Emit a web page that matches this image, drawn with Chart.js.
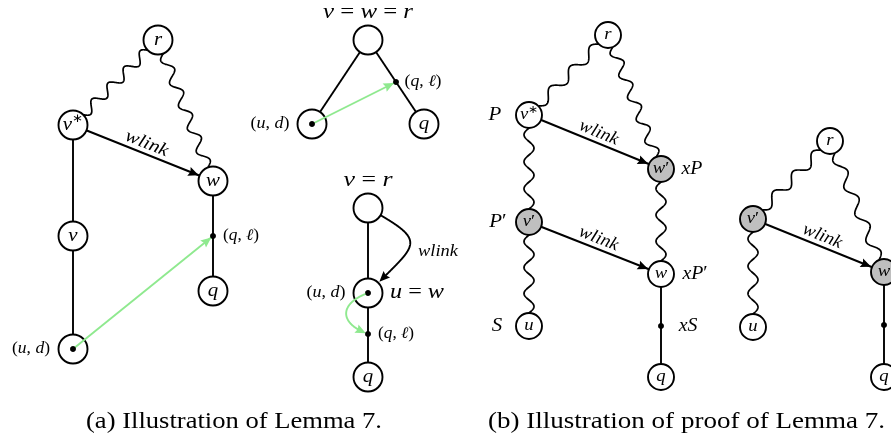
<!DOCTYPE html>
<html><head><meta charset="utf-8">
<script src="https://cdn.jsdelivr.net/npm/chart.js@4.4.0/dist/chart.umd.min.js"></script>
<style>html,body{margin:0;padding:0;background:#fff;}#wrap{width:891px;height:441px;}</style>
</head><body><div id="wrap"><canvas id="c" width="891" height="441"></canvas></div>
<script>
// ---------- data (diagram coordinates on invisible x:0..891, y:0..441 axes) ----------
const nodeId   = ['a_r','a_vs','a_w','a_v','a_ud','a_q','m1_top','m1_ud','m1_q','m2_top','m2_ud','m2_q','b_r','b_vs','b_wp','b_vp','b_w','b_u','b_q','c_r','c_vp','c_w','c_u','c_q'];
const nodeX    = [158, 73, 213, 73, 73, 213, 368, 312, 424, 368, 368, 368, 608, 529, 661, 529, 661, 529, 661, 830, 753, 884, 753, 884];
const nodeY    = [40, 125, 181, 236, 349, 291, 40, 124, 124, 208, 293, 377, 35, 115, 169, 222, 274, 326, 377, 141, 219, 272, 327, 377];
const nodeText = ['r','v*','w','v','','q','','','q','','','q','r','v*',"w'","v'",'w','u','q','r',"v'",'w','u','q'];
const shadedNodes = ['b_wp','b_vp','c_vp','c_w'];

const dotX = [213, 73, 396, 312, 368, 368, 661, 884];
const dotY = [236, 349, 82, 124, 293, 334, 326, 325];

const plainEdges = [['a_vs','a_v'],['a_v','a_ud'],['a_w','a_q'],['m1_top','m1_ud'],['m1_top','m1_q'],['m2_top','m2_ud'],['m2_ud','m2_q'],['b_w','b_q'],['c_w','c_q']];
const wavyEdges  = [['a_r','a_vs'],['a_r','a_w'],['b_r','b_vs'],['b_r','b_wp'],['b_vs','b_vp'],['b_wp','b_w'],['b_vp','b_u'],['c_r','c_vp'],['c_r','c_w'],['c_vp','c_u']];
const wlinkEdges = [['a_vs','a_w'],['b_vs','b_wp'],['b_vp','b_w'],['c_vp','c_w']];
const greenArrows = [[1,0],[3,2]];          // dot index -> dot index
const bentWlink = ['m2_top','m2_ud'];       // curved wlink
const bentGreen = [4,5];                    // curved green arrow, dot -> dot

const labelText = ['v = w = r','v = r','(u, d)','(q, ℓ)','(u, d)','(q, ℓ)','(u, d)','(q, ℓ)','u = w','wlink','P',"P'",'S','xP',"xP'",'xS'];
const labelX    = [368, 368, 31, 241, 270, 423, 326, 396, 417, 438, 495, 498, 497, 692, 695, 688];
const labelY    = [12, 180, 349, 236, 124, 82, 293, 334, 293, 252, 115, 222, 326, 169, 274, 326];

const captionText = ['(a) Illustration of Lemma 7.', '(b) Illustration of proof of Lemma 7.'];
const captionX = [234, 686.5];
const captionY = [422, 422];

// ---------- styles ----------
const FONT = "'Liberation Serif','Times New Roman',serif";
const LW = 1.9;
const GREEN = '#8fe98f';
const GREY = '#bfbfbf';
const WAVE_PERIOD = 26, WAVE_AMP = 5, WAVE_LW = 1.7;
const HSCALE = 1.1;
const labelSize  = [21,21,16,16,16,16,16,16,20,17,19,19,19,18,18,18];
const labelWidth = [90,49,38,36,39,37,39,36,54,40,0,0,0,0,0,0];
const captionWidth = [296, 397];

const idx = id => nodeId.indexOf(id);
const rad = id => (id.startsWith('b_') || id.startsWith('c_')) ? 13 : 14.5;
const nodeSize = id => (id.startsWith('b_') || id.startsWith('c_')) ? 17 : 19;

// ---------- datasets ----------
const datasets = [];
plainEdges.forEach(([a,b]) => datasets.push({
  data:[{x:nodeX[idx(a)],y:nodeY[idx(a)]},{x:nodeX[idx(b)],y:nodeY[idx(b)]}],
  showLine:true, borderColor:'#000', borderWidth:LW, pointRadius:0, order:5}));
wlinkEdges.forEach(([a,b]) => datasets.push({
  data:[{x:nodeX[idx(a)],y:nodeY[idx(a)]},{x:nodeX[idx(b)],y:nodeY[idx(b)]}],
  showLine:true, borderColor:'#000', borderWidth:LW, pointRadius:0, order:5}));
datasets.push({
  data: nodeId.map((id,i)=>({x:nodeX[i],y:nodeY[i]})),
  pointRadius: nodeId.map(rad),
  pointBackgroundColor: nodeId.map(id => shadedNodes.includes(id) ? GREY : '#fff'),
  pointBorderColor:'#000', pointBorderWidth:LW, pointStyle:'circle', order:3});
greenArrows.forEach(([a,b]) => datasets.push({
  data:[{x:dotX[a],y:dotY[a]},{x:dotX[b],y:dotY[b]}],
  showLine:true, borderColor:GREEN, borderWidth:LW, pointRadius:0, order:1}));
datasets.push({
  data: dotX.map((x,i)=>({x, y:dotY[i]})),
  pointRadius:2.7, pointBackgroundColor:'#000', pointBorderWidth:0, order:0});

// ---------- drawing helpers ----------
function wavy(c,x0,y0,x1,y1,r0,r1){
  const dx=x1-x0, dy=y1-y0, L=Math.hypot(dx,dy), ux=dx/L, uy=dy/L;
  const sx=x0+ux*r0, sy=y0+uy*r0, len=L-r0-r1;
  const n=Math.max(1,Math.round(len/WAVE_PERIOD)), per=len/n, nx=-uy, ny=ux;
  c.beginPath();
  for(let s=0;s<=len+0.01;s+=0.5){
    const o=WAVE_AMP*Math.sin(2*Math.PI*s/per);
    c.lineTo(sx+ux*s+nx*o, sy+uy*s+ny*o);
  }
  c.stroke();
}
function head(c,tx,ty,ux,uy,color){
  const L=10.5, W=4.6, bx=tx-ux*L, by=ty-uy*L;
  c.fillStyle=color; c.beginPath();
  c.moveTo(tx,ty); c.lineTo(bx-uy*W,by+ux*W);
  c.lineTo(tx-ux*L*0.85,ty-uy*L*0.85);
  c.lineTo(bx+uy*W,by-ux*W); c.closePath(); c.fill();
}
function curve(c,p0,r0,outDeg,p3,r3,inDeg,d,trim,color){
  const o=outDeg*Math.PI/180, i=inDeg*Math.PI/180;
  const a0={x:p0.x+r0*Math.cos(o), y:p0.y-r0*Math.sin(o)};
  const a3={x:p3.x+r3*Math.cos(i), y:p3.y-r3*Math.sin(i)};
  const c1={x:a0.x+d*Math.cos(o), y:a0.y-d*Math.sin(o)};
  const c2={x:a3.x+d*Math.cos(i), y:a3.y-d*Math.sin(i)};
  const pts=[];
  for(let k=0;k<=200;k++){const t=k/200,m=1-t;
    pts.push({x:m*m*m*a0.x+3*m*m*t*c1.x+3*m*t*t*c2.x+t*t*t*a3.x, y:m*m*m*a0.y+3*m*m*t*c1.y+3*m*t*t*c2.y+t*t*t*a3.y});}
  let e=pts.length-1;
  while(e>0 && Math.hypot(pts[e].x-a3.x,pts[e].y-a3.y)<trim) e--;
  const tip=pts[e];
  let b=e; while(b>0 && Math.hypot(pts[b].x-tip.x,pts[b].y-tip.y)<6) b--;
  let h=e; while(h>0 && Math.hypot(pts[h].x-tip.x,pts[h].y-tip.y)<9) h--;
  c.strokeStyle=color; c.lineWidth=LW; c.beginPath();
  for(let k=0;k<=b;k++) c.lineTo(pts[k].x,pts[k].y);
  c.stroke();
  const dx=tip.x-pts[h].x, dy=tip.y-pts[h].y, L=Math.hypot(dx,dy);
  head(c,tip.x,tip.y,dx/L,dy/L,color);
}
function runs(str, math){
  const out=[];
  for(const ch of str){
    if(ch==='*') out.push({t:'∗',it:false,sup:true});
    else if(ch==="'") out.push({t:'′',it:false,sup:false});
    else if(/[A-Za-zℓ]/.test(ch) && math) out.push({t:ch,it:true,sup:false});
    else out.push({t:ch,it:false,sup:false});
  }
  return out;
}
function drawText(c,str,x,y,size,opt){
  opt=opt||{};
  const rs=runs(str, opt.math!==false);
  c.save();
  c.textBaseline='middle'; c.textAlign='left'; c.fillStyle='#000';
  let total=0;
  rs.forEach(r=>{ r.sz = r.sup? size*0.62 : size; c.font=(r.it?'italic ':'')+r.sz+'px '+FONT; r.w=c.measureText(r.t).width; total+=r.w; });
  let sx = opt.width ? opt.width/total : HSCALE;
  c.translate(x,y); if(opt.angle) c.rotate(opt.angle); c.scale(sx,1);
  let cx=-total/2;
  rs.forEach(r=>{ c.font=(r.it?'italic ':'')+r.sz+'px '+FONT; c.fillText(r.t,cx, r.sup? -size*0.3 : 0); cx+=r.w; });
  c.restore();
}

const diagram = {
  id:'diagram',
  beforeDatasetsDraw(chart){
    const c=chart.ctx, X=v=>chart.scales.x.getPixelForValue(v), Y=v=>chart.scales.y.getPixelForValue(v);
    c.save(); c.strokeStyle='#000'; c.lineWidth=WAVE_LW; c.lineJoin='round';
    wavyEdges.forEach(([a,b])=>{ const i=idx(a), j=idx(b);
      wavy(c,X(nodeX[i]),Y(nodeY[i]),X(nodeX[j]),Y(nodeY[j]),rad(a),rad(b)); });
    c.restore();
  },
  afterDatasetsDraw(chart){
    const c=chart.ctx, X=v=>chart.scales.x.getPixelForValue(v), Y=v=>chart.scales.y.getPixelForValue(v);
    c.save();
    wlinkEdges.forEach(([a,b])=>{
      const i=idx(a), j=idx(b), x0=X(nodeX[i]), y0=Y(nodeY[i]), x1=X(nodeX[j]), y1=Y(nodeY[j]);
      const L=Math.hypot(x1-x0,y1-y0), ux=(x1-x0)/L, uy=(y1-y0)/L;
      head(c, x1-ux*(rad(b)+0.9), y1-uy*(rad(b)+0.9), ux, uy, '#000');
      const mx=(x0+x1)/2+uy*10, my=(y0+y1)/2-ux*10;
      drawText(c,'wlink',mx,my, 18, {angle:Math.atan2(uy,ux), width: a.startsWith('a_')?45:41});
    });
    greenArrows.forEach(([a,b])=>{
      const x0=X(dotX[a]), y0=Y(dotY[a]), x1=X(dotX[b]), y1=Y(dotY[b]);
      const L=Math.hypot(x1-x0,y1-y0), ux=(x1-x0)/L, uy=(y1-y0)/L;
      head(c, x1-ux*2.2, y1-uy*2.2, ux, uy, GREEN);
    });
    { const i=idx(bentWlink[0]), j=idx(bentWlink[1]);
      curve(c,{x:X(nodeX[i]),y:Y(nodeY[i])},rad(bentWlink[0]),-30,{x:X(nodeX[j]),y:Y(nodeY[j])},rad(bentWlink[1]),45,52,0.9,'#000'); }
    { const a=bentGreen[0], b=bentGreen[1];
      curve(c,{x:X(dotX[a]),y:Y(dotY[a])},0,200,{x:X(dotX[b]),y:Y(dotY[b])},0,160,31,2.2,GREEN); }
    c.fillStyle='#000';
    dotX.forEach((x,k)=>{ c.beginPath(); c.arc(X(x),Y(dotY[k]),2.7,0,Math.PI*2); c.fill(); });
    nodeId.forEach((id,k)=>{ if(nodeText[k]) drawText(c,nodeText[k],X(nodeX[k]),Y(nodeY[k]),nodeSize(id)); });
    labelText.forEach((t,k)=> drawText(c,t,X(labelX[k]),Y(labelY[k]),labelSize[k],{width:labelWidth[k]||0}));
    captionText.forEach((t,k)=> drawText(c,t,X(captionX[k]),Y(captionY[k]),22.5,{math:false,width:captionWidth[k]}));
    c.restore();
  }
};

new Chart(document.getElementById('c'), {
  type:'scatter',
  data:{datasets},
  options:{
    responsive:false, animation:false, events:[],
    layout:{padding:0, autoPadding:false},
    plugins:{legend:{display:false}, tooltip:{enabled:false}},
    scales:{
      x:{type:'linear',min:0,max:891,display:false},
      y:{type:'linear',min:0,max:441,reverse:true,display:false}
    }
  },
  plugins:[diagram]
});
</script></body></html>
